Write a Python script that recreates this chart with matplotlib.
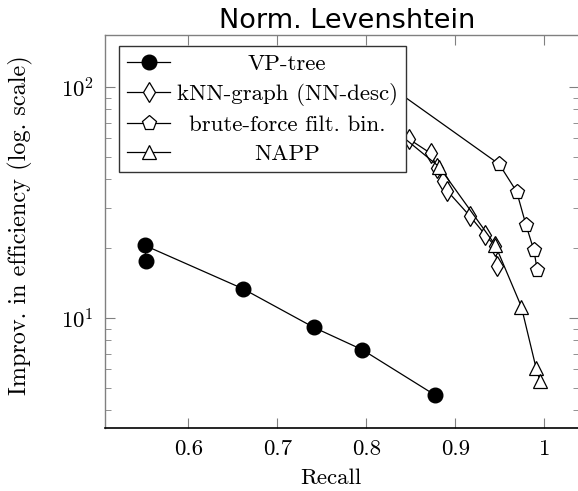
import matplotlib
matplotlib.use("Agg")
import matplotlib.pyplot as plt
from matplotlib.ticker import LogLocator, NullFormatter

plt.rcParams['mathtext.fontset'] = 'cm'
plt.rcParams['font.family'] = ['cmr10', 'DejaVu Serif']
plt.rcParams['axes.formatter.use_mathtext'] = True

# ---- data ----
vp_recall = [0.5525, 0.5513, 0.6611, 0.7409, 0.7955, 0.8772]
vp_eff = [17.7, 20.6, 13.4, 9.11, 7.29, 4.64]

knn_recall = [0.780, 0.8483, 0.8724, 0.8798, 0.8865, 0.8910, 0.9165, 0.9337, 0.9449, 0.9472]
knn_eff = [90.0, 59.4, 51.6, 44.5, 39.3, 35.5, 27.6, 22.9, 20.4, 16.8]

bf_recall = [0.8356, 0.9494, 0.9690, 0.9794, 0.9884, 0.9921]
bf_eff = [95.0, 46.3, 35.2, 25.3, 19.6, 16.1]

napp_recall = [0.800, 0.8817, 0.9449, 0.9742, 0.9907, 0.9952]
napp_eff = [82.0, 45.2, 20.7, 11.2, 6.09, 5.34]

labels = ['VP-tree', 'kNN-graph (NN-desc)', 'brute-force filt. bin.', 'NAPP']
x_ticks = [0.6, 0.7, 0.8, 0.9, 1.0]
x_ticklabels = ['0.6', '0.7', '0.8', '0.9', '1']

W, H = 578, 491
fig = plt.figure(figsize=(W / 100, H / 100), dpi=100)
ax = fig.add_axes([105 / W, 1 - 428 / H, (579 - 105) / W, (428 - 34.5) / H])

lw = 0.9
ax.plot(vp_recall, vp_eff, color='black', lw=lw, marker='o', ms=10.5,
        mfc='black', mec='black', label=labels[0])
ax.plot(knn_recall, knn_eff, color='black', lw=lw, marker='d', ms=10,
        mfc='white', mec='black', mew=0.9, label=labels[1])
ax.plot(bf_recall, bf_eff, color='black', lw=lw, marker='p', ms=11,
        mfc='white', mec='black', mew=0.9, label=labels[2])
ax.plot(napp_recall, napp_eff, color='black', lw=lw, marker='^', ms=10,
        mfc='white', mec='black', mew=0.9, label=labels[3])

ax.set_yscale('log')
ax.set_xlim(0.5064, 1.039)
ax.set_ylim(10 ** (1 - 110 / 231), 10 ** (2 + 52.5 / 231))
ax.set_xticks(x_ticks)
ax.set_xticklabels(x_ticklabels)
ax.xaxis.set_minor_locator(matplotlib.ticker.NullLocator())
ax.yaxis.set_major_locator(LogLocator(base=10, numticks=10))
ax.yaxis.set_minor_locator(LogLocator(base=10, subs=range(2, 10), numticks=20))
ax.yaxis.set_minor_formatter(NullFormatter())

gray = '#808080'
for s in ['left', 'top', 'right']:
    ax.spines[s].set_color(gray)
    ax.spines[s].set_linewidth(1.0)
ax.spines['bottom'].set_color('black')
ax.spines['bottom'].set_linewidth(1.2)

FS = 16.5
ax.tick_params(which='both', direction='in', top=True, right=True, color=gray,
               labelsize=FS, pad=8)
ax.tick_params(which='major', length=7)
ax.tick_params(which='minor', length=4.5)

ax.set_xlabel('Recall', fontsize=FS)
ax.xaxis.set_label_coords((331 - 105) / 474, -0.103)
ax.set_ylabel('Improv. in efficiency (log. scale)', fontsize=17.5)
ax.yaxis.set_label_coords(-0.152, (428 - 225) / 393.5)

ax.set_title('Norm. Levenshtein', fontsize=19.5, family='DejaVu Sans', pad=3,
             x=(347.5 - 105) / 474)

leg = ax.legend(loc='upper left', bbox_to_anchor=((119.3 - 105) / 474, 1 - (45.7 - 34.5) / 393.5),
                fontsize=FS, frameon=True, fancybox=False, edgecolor='#333333',
                framealpha=1, handlelength=1.85, handletextpad=0.3,
                labelspacing=0.39, borderpad=0.35, borderaxespad=0)
leg.get_frame().set_linewidth(1.0)

# center legend labels within their column (like pgfplots)
fig.canvas.draw()
r = fig.canvas.get_renderer()
texts = leg.get_texts()
widths = [t.get_window_extent(r).width for t in texts]
maxw = max(widths)
for t, w in zip(texts, widths):
    t.set_x((maxw - w) / 2)

fig.savefig('out.png', dpi=100)
